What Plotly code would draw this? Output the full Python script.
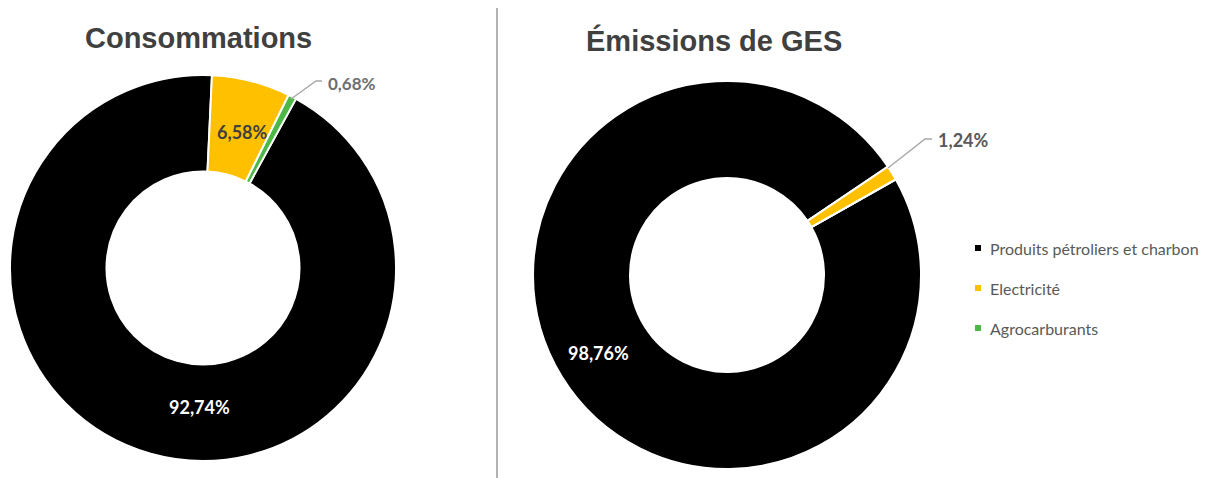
import plotly.graph_objects as go

# Energy categories and their shares (%)
categories = ["Produits pétroliers et charbon", "Electricité", "Agrocarburants"]
consommations = [92.74, 6.58, 0.68]
emissions = [98.76, 1.24, 0.0]
colors = ["#000000", "#FFC000", "#4DB848"]

W, H = 1209, 478


def px(x):
    return x / W


def py(y):
    # y measured from the top of the page
    return 1 - y / H


def fmt(v):
    return f"{v:.2f}".replace(".", ",") + "%"


fig = go.Figure()

fig.add_trace(go.Pie(
    labels=categories, values=consommations, hole=0.5, sort=False,
    direction="clockwise", rotation=28.8,
    marker=dict(colors=colors, line=dict(color="white", width=2)),
    textinfo="none", hoverinfo="label+percent", showlegend=False,
    domain=dict(x=[px(10), px(396)], y=[py(461), py(75)]),
))

fig.add_trace(go.Pie(
    labels=categories, values=emissions, hole=0.5, sort=False,
    direction="clockwise", rotation=60.5,
    marker=dict(colors=colors, line=dict(color="white", width=2)),
    textinfo="none", hoverinfo="label+percent", showlegend=False,
    domain=dict(x=[px(533), px(921)], y=[py(469), py(81)]),
))

annotations = []
shapes = []


def note(x, y, text, font, xanchor="center"):
    annotations.append(dict(x=px(x), y=py(y), text=text, showarrow=False,
                            xanchor=xanchor, yanchor="middle",
                            xref="paper", yref="paper", font=font))


# Titles
title_font = dict(family="Liberation Sans, Arial, sans-serif", size=29, color="#404040")
note(198, 38, "<b>Consommations</b>", title_font)
note(714, 41, "<b>Émissions de GES</b>", title_font)

lab_font = "Lato, Open Sans, sans-serif"

# Data labels
note(199, 407, f"<b>{fmt(consommations[0])}</b>", dict(family=lab_font, size=18, color="white"))
note(242, 132, f"<b>{fmt(consommations[1])}</b>", dict(family=lab_font, size=18, color="#404040"))
note(326, 83, f"<b>{fmt(consommations[2])}</b>", dict(family=lab_font, size=17, color="#6E6E6E"),
     xanchor="left")
note(598, 353, f"<b>{fmt(emissions[0])}</b>", dict(family=lab_font, size=18, color="white"))
note(936, 140, f"<b>{fmt(emissions[1])}</b>", dict(family=lab_font, size=18, color="#595959"),
     xanchor="left")

# Leader lines for the outside labels
leader = dict(color="#A6A6A6", width=1.3)
shapes.append(dict(type="path", xref="paper", yref="paper",
                   path=f"M {px(291)} {py(99)} L {px(316)} {py(81)} L {px(322)} {py(81)}", line=leader))
shapes.append(dict(type="path", xref="paper", yref="paper",
                   path=f"M {px(888)} {py(168)} L {px(925)} {py(139)} L {px(932)} {py(139)}", line=leader))

# Divider between the two charts
shapes.append(dict(type="line", xref="paper", yref="paper", x0=px(497), x1=px(497),
                   y0=py(8), y1=py(478), line=dict(color="#7F7F7F", width=1.2)))

# Legend
legend_y = [248, 288, 328]
for name, col, ly in zip(categories, colors, legend_y):
    shapes.append(dict(type="rect", xref="paper", yref="paper",
                       x0=px(975), x1=px(981), y0=py(ly + 3), y1=py(ly - 3),
                       fillcolor=col, line=dict(width=0)))
    note(988, ly, name, dict(family=lab_font, size=16, color="#595959"), xanchor="left")

fig.update_layout(
    width=W, height=H, margin=dict(l=0, r=0, t=0, b=0),
    paper_bgcolor="white", plot_bgcolor="white",
    annotations=annotations, shapes=shapes,
)

fig.write_html("out.html")
